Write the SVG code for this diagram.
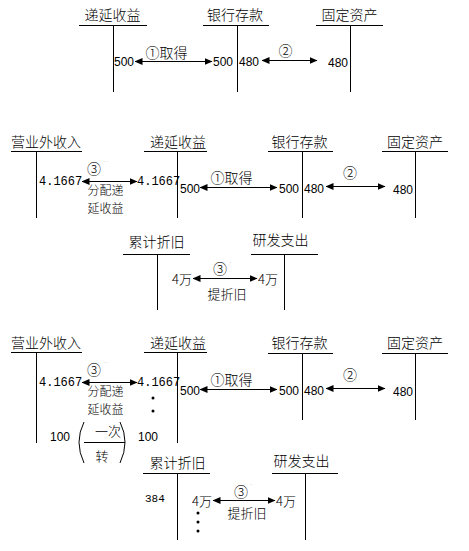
<svg xmlns="http://www.w3.org/2000/svg" width="469" height="551" viewBox="0 0 469 551">
<style>
.t{font-family:"Noto Sans CJK SC","Liberation Sans",sans-serif;font-size:14px;font-weight:300;fill:#000;text-anchor:middle}
.c{font-family:"Noto Sans CJK SC","Liberation Sans",sans-serif;font-size:13px;font-weight:300;fill:#000}
.s{font-family:"Noto Sans CJK SC","Liberation Sans",sans-serif;font-size:12px;font-weight:300;fill:#000;text-anchor:middle}
.n{font-family:"Liberation Sans",Arial,sans-serif;font-size:12px;fill:#000}
.m{font-family:"Liberation Mono","Noto Sans CJK SC",monospace;font-size:12px;fill:#000}
.f{font-family:"Liberation Mono",monospace;font-size:11px;fill:#000}
.g{font-family:"Liberation Sans",sans-serif;font-size:8px;fill:#c8c8c8}
.l{stroke:#000;stroke-width:1;fill:none}
.a{stroke:#000;stroke-width:1;fill:none;marker-start:url(#h);marker-end:url(#h)}
.d{fill:#000}
</style>
<defs>
<marker id="h" viewBox="0 0 8 7" refX="7.5" refY="3.5" markerWidth="8" markerHeight="7" markerUnits="userSpaceOnUse" orient="auto-start-reverse">
<path d="M0,0 L8,3.5 L0,7 Z" fill="#000"/>
</marker>
</defs>
<rect width="469" height="551" fill="#fff"/>

<!-- Section 1 -->
<g id="s1-dyi">
<text class="t" x="112.5" y="20">递延收益</text>
<path class="l" d="M79,25.5H147M113.5,25.5V92"/>
<text class="n" x="114" y="66">500</text>
</g>
<g id="s1-yhck">
<text class="t" x="235" y="20">银行存款</text>
<path class="l" d="M203,25.5H269M237.5,25.5V92"/>
<text class="n" x="213" y="66">500</text>
<text class="n" x="239" y="66">480</text>
</g>
<g id="s1-gdzc">
<text class="t" x="349.5" y="20">固定资产</text>
<path class="l" d="M316,25.5H383M350.5,25.5V92"/>
<text class="n" x="328" y="67">480</text>
</g>

<!-- Section 2 -->
<g id="s2-yywsr">
<text class="t" x="46" y="147">营业外收入</text>
<path class="l" d="M11,151.5H82M36.5,151.5V218"/>
<text class="m" x="39" y="185">4.1667</text>
</g>
<g id="s2-dyi">
<text class="t" x="178" y="147">递延收益</text>
<path class="l" d="M144,151.5H207M177.5,151.5V218"/>
<text class="m" x="137" y="185">4.1667</text>
<text class="n" x="180" y="193">500</text>
</g>
<g id="s2-yhck">
<text class="t" x="299.5" y="147">银行存款</text>
<path class="l" d="M268,151.5H333M302.5,151.5V218"/>
<text class="n" x="279" y="193">500</text>
<text class="n" x="304" y="193">480</text>
</g>
<g id="s2-gdzc">
<text class="t" x="415" y="147">固定资产</text>
<path class="l" d="M382,151.5H448M415.5,151.5V218"/>
<text class="n" x="393" y="194">480</text>
</g>

<!-- Section 3 -->
<g id="s3-ljzj">
<text class="t" x="156.5" y="247">累计折旧</text>
<path class="l" d="M123,254.5H190M157.5,254.5V310"/>
<text class="c" x="172" y="284">4万</text>
</g>
<g id="s3-yfzc">
<text class="t" x="280.5" y="245">研发支出</text>
<path class="l" d="M251,254.5H318M284.5,254.5V310"/>
<text class="c" x="258" y="284">4万</text>
</g>

<!-- Section 4 -->
<g id="s4-yywsr">
<text class="t" x="46" y="348">营业外收入</text>
<path class="l" d="M11,352.5H82M36.5,352.5V443"/>
<text class="m" x="39" y="386">4.1667</text>
<text class="n" x="50" y="441">100</text>
</g>
<g id="s4-dyi">
<text class="t" x="178" y="348">递延收益</text>
<path class="l" d="M144,352.5H207M177.5,352.5V443"/>
<text class="m" x="137" y="386">4.1667</text>
<text class="n" x="180" y="395">500</text>
<text class="n" x="138" y="441">100</text>
<circle class="d" cx="153" cy="398" r="1.5"/>
<circle class="d" cx="153" cy="411" r="1.5"/>
</g>
<g id="s4-frac">
<path class="l" d="M84,422 Q74,442 84,463"/>
<path class="l" d="M120,422 Q130,442 120,463"/>
<text class="c" x="108" y="436" text-anchor="middle">一次</text>
<path class="l" d="M84,442.5H125"/>
<text class="c" x="102" y="461" text-anchor="middle">转</text>
</g>
<g id="s4-yhck">
<text class="t" x="299.5" y="348">银行存款</text>
<path class="l" d="M268,353.5H333M302.5,353.5V420"/>
<text class="n" x="279" y="395">500</text>
<text class="n" x="304" y="395">480</text>
</g>
<g id="s4-gdzc">
<text class="t" x="415" y="348">固定资产</text>
<path class="l" d="M382,353.5H448M415.5,353.5V420"/>
<text class="n" x="393" y="396">480</text>
</g>
<g id="s4-ljzj">
<text class="t" x="177.5" y="468">累计折旧</text>
<path class="l" d="M143,473.5H210M177.5,473.5V540"/>
<text class="f" x="145" y="502">384</text>
<text class="c" x="192" y="506">4万</text>
<circle class="d" cx="198" cy="513" r="1.5"/>
<circle class="d" cx="198" cy="522" r="1.5"/>
<circle class="d" cx="198" cy="531" r="1.5"/>
</g>
<g id="s4-yfzc">
<text class="t" x="301.5" y="466">研发支出</text>
<path class="l" d="M272,473.5H338M305.5,473.5V540"/>
<text class="c" x="276" y="506">4万</text>
</g>

<!-- Connectors -->
<g id="connectors">
<path class="a" d="M135,61.5H212"/>
<text class="t" x="166.5" y="58">①取得</text>
<path class="a" d="M262,60.5H317"/>
<text class="t" x="285.5" y="56">②</text>

<path class="a" d="M82,181.5H137"/>
<text class="t" x="94" y="174">③</text>
<text class="g" x="103" y="166">``</text>
<text class="s"><tspan x="105.5" y="195">分配递</tspan><tspan x="105.5" y="212.5">延收益</tspan></text>
<path class="a" d="M200,187.5H277"/>
<text class="t" x="231.5" y="183">①取得</text>
<path class="a" d="M326,186.5H385"/>
<text class="t" x="350" y="178">②</text>

<path class="a" d="M193,278.5H257"/>
<text class="t" x="220" y="274">③</text>
<text class="g" x="229" y="267">`</text>
<text class="c" x="227" y="299" text-anchor="middle">提折旧</text>

<path class="a" d="M82,382.5H137"/>
<text class="t" x="94" y="375">③</text>
<text class="g" x="103" y="367">``</text>
<text class="s"><tspan x="105.5" y="396">分配递</tspan><tspan x="105.5" y="413.5">延收益</tspan></text>
<path class="a" d="M200,389.5H277"/>
<text class="t" x="231.5" y="385">①取得</text>
<path class="a" d="M326,388.5H385"/>
<text class="t" x="350" y="380">②</text>

<path class="a" d="M213,500.5H275"/>
<text class="t" x="241" y="497">③</text>
<text class="g" x="250" y="489">`</text>
<text class="c" x="247" y="518" text-anchor="middle">提折旧</text>
</g>
</svg>
